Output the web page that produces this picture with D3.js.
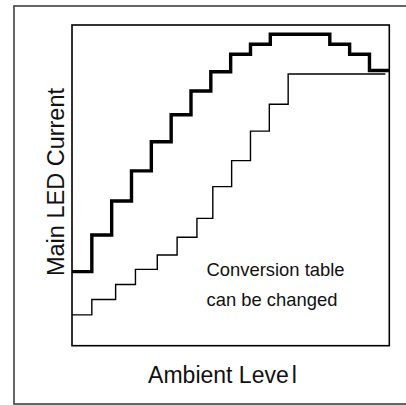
<!DOCTYPE html>
<html>
<head>
<meta charset="utf-8">
<script src="https://cdn.jsdelivr.net/npm/d3@7"></script>
<style>
  html, body { margin: 0; padding: 0; background: #fff; }
  svg { display: block; font-family: "Liberation Sans", Arial, sans-serif; }
</style>
</head>
<body>
<div id="container"></div>
<script>
// Step edges on the ambient axis (0..16 units) and current levels (0..100)
const thickEdges = [0, 1, 2, 3, 4, 5, 6, 7, 8, 9, 10, 11, 12, 13, 14, 15, 16];
const thickLevels = [23.1, 34.5, 45.1, 54.5, 63.6, 72, 79.4, 85.4, 90.9, 94, 97.1, 97.1, 97.1, 94, 90.9, 85.8];

const thinEdges = [0, 1, 2.2, 3.2, 4.3, 5.3, 6.3, 7.1, 8.05, 9, 9.95, 10.9, 15.8];
const thinLevels = [9.6, 14.4, 19.1, 23.8, 28.3, 33.8, 39.7, 49.6, 57.7, 66.9, 75.3, 84.7];

const xLabel = "Ambient Leve";
const xLabelTail = "l";
const yLabel = "Main LED Current";
const noteLines = ["Conversion table", "can be changed"];

const dimensions = {
	width: 406,
	height: 405,
	margin: { left: 72, right: 16.7, top: 25, bottom: 59.3 }
};
const innerW = dimensions.width - dimensions.margin.left - dimensions.margin.right;
const innerH = dimensions.height - dimensions.margin.top - dimensions.margin.bottom;

const svg = d3.select("#container")
	.append("svg")
	.attr("width", dimensions.width)
	.attr("height", dimensions.height);

// outer gray frame
svg.append("rect")
	.attr("x", 14).attr("y", 6)
	.attr("width", 400).attr("height", 398)
	.attr("fill", "none")
	.attr("stroke", "#555")
	.attr("stroke-width", 1.8);

const g = svg.append("g")
	.attr("transform", `translate(${dimensions.margin.left}, ${dimensions.margin.top})`);

const x = d3.scaleLinear().domain([0, 16]).range([0, innerW]);
const y = d3.scaleLinear().domain([0, 100]).range([innerH, 0]);

// turn edges + levels into step points
const toPoints = (edges, levels) => {
	const pts = levels.map((v, i) => [edges[i], v]);
	pts.push([edges[edges.length - 1], levels[levels.length - 1]]);
	return pts;
};

const line = d3.line()
	.x(d => x(d[0]))
	.y(d => y(d[1]))
	.curve(d3.curveStepAfter);

g.append("path")
	.datum(toPoints(thinEdges, thinLevels))
	.attr("d", line)
	.attr("fill", "none")
	.attr("stroke", "#000")
	.attr("stroke-width", 1.4);

g.append("path")
	.datum(toPoints(thickEdges, thickLevels))
	.attr("d", line)
	.attr("fill", "none")
	.attr("stroke", "#000")
	.attr("stroke-width", 3.4);

// plot frame
g.append("rect")
	.attr("x", 0).attr("y", 0)
	.attr("width", innerW).attr("height", innerH)
	.attr("fill", "none")
	.attr("stroke", "#000")
	.attr("stroke-width", 1.6);

// note text
g.selectAll("text.note")
	.data(noteLines)
	.enter()
	.append("text")
	.attr("class", "note")
	.attr("x", 134.5)
	.attr("y", (d, i) => 250.5 + i * 30.5)
	.attr("font-size", 18.4)
	.attr("fill", "#111")
	.text(d => d);

// axis titles
const xt = svg.append("text")
	.attr("x", 222.5)
	.attr("y", 383)
	.attr("text-anchor", "middle")
	.attr("font-size", 23)
	.attr("fill", "#111")
	.text(xLabel);
xt.append("tspan").attr("dx", 3).text(xLabelTail);

svg.append("text")
	.attr("transform", "translate(64, 182) rotate(-90)")
	.attr("text-anchor", "middle")
	.attr("font-size", 23.5)
	.attr("fill", "#111")
	.text(yLabel);
</script>
</body>
</html>
